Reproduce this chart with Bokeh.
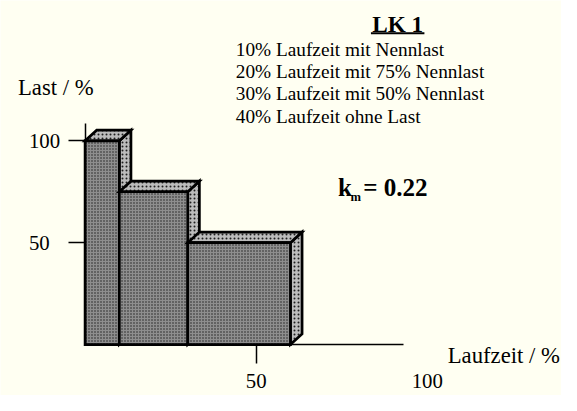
import numpy as np
from bokeh.plotting import figure
from bokeh.models import Range1d, FixedTicker, LinearAxis, Label, ColumnDataSource
from bokeh.embed import file_html
from bokeh.resources import INLINE

# ---- data ----
durations = [10, 20, 30, 40]          # Laufzeit / %
loads = [100, 75, 50, 0]              # Last / %
y_ticks = [50, 100]
x_ticks = [50, 100]
title_text = "LK 1"
legend_lines = [
    "10% Laufzeit mit Nennlast",
    "20% Laufzeit mit 75% Nennlast",
    "30% Laufzeit mit 50% Nennlast",
    "40% Laufzeit ohne Last",
]
km_value = "0.22"

# ---- layout / style ----
BG = "#fffff2"
FONT = "Liberation Serif"
REF_W, REF_H = 577, 411
W, H = 561, 395
SX, SY = W / REF_W, H / REF_H
FS = (SX + SY) / 2
# reference-pixel geometry of the data frame
RX0, RXS = 87, 3.52     # ref px of x=0, ref px per unit
RY0, RYS = 358, 2.12    # ref px of y=0, ref px per unit
DEPTH_X, DEPTH_Y = 3.4, 5.2


def dx(px):
    return (px - RX0) / RXS


def dy(py):
    return (RY0 - py) / RYS


def fpx(size):
    return "%.1fpx" % (size * FS)


p = figure(width=W, height=H,
           x_range=Range1d(dx(0), dx(REF_W)),
           y_range=Range1d(dy(REF_H), dy(0)),
           output_backend="svg", toolbar_location=None,
           min_border=0, x_axis_type=None, y_axis_type=None)
p.grid.visible = False
p.outline_line_color = None
p.background_fill_color = BG
p.border_fill_color = BG

# ---- 3D bars ----
starts = np.concatenate([[0], np.cumsum(durations)[:-1]])
xs, ys, fills, scales = [], [], [], []
for s, d, h in zip(starts, durations, loads):
    if h <= 0:
        continue
    e = s + d
    # right side face
    xs.append([e, e + DEPTH_X, e + DEPTH_X, e])
    ys.append([0, DEPTH_Y, h + DEPTH_Y, h])
    fills.append("#bcbcbc"); scales.append(4)
    # top face
    xs.append([s, s + DEPTH_X, e + DEPTH_X, e])
    ys.append([h, h + DEPTH_Y, h + DEPTH_Y, h])
    fills.append("#bcbcbc"); scales.append(4)
    # front face
    xs.append([s, e, e, s])
    ys.append([0, 0, h, h])
    fills.append("#8e8e8e"); scales.append(3)

src = ColumnDataSource(dict(xs=xs, ys=ys, fill=fills, scale=scales))
p.patches("xs", "ys", source=src, fill_color="fill", line_color="black",
          line_width=2.7, line_join="miter",
          hatch_pattern=".", hatch_color="#202020", hatch_scale="scale",
          hatch_weight=1)

# ---- axes ----
def style_axis(ax):
    ax.axis_line_width = 1.5
    ax.axis_line_color = "black"
    ax.major_tick_line_width = 1.5
    ax.major_tick_line_color = "black"
    ax.major_tick_in = 0
    ax.minor_tick_in = 0
    ax.minor_tick_out = 0
    ax.major_label_text_font = FONT
    ax.major_label_text_font_size = fpx(21.5)
    ax.major_label_text_color = "black"


yax = LinearAxis(fixed_location=0, bounds=(0, dy(128)),
                 ticker=FixedTicker(ticks=y_ticks))
style_axis(yax)
yax.major_tick_out = round(17 * SX)
yax.major_label_standoff = round(8 * SX)
yax.major_label_overrides = {50: "50\u00a0\u00a0"}
p.add_layout(yax, "left")

x_line_end = dx(415)
xax = LinearAxis(fixed_location=0, bounds=(0, x_line_end),
                 ticker=FixedTicker(ticks=[t for t in x_ticks if t <= x_line_end]))
style_axis(xax)
xax.major_tick_out = round(20 * SY)
xax.major_label_standoff = round(10 * SY)
p.add_layout(xax, "below")

xax2 = LinearAxis(fixed_location=0,
                  ticker=FixedTicker(ticks=[t for t in x_ticks if t > x_line_end]))
style_axis(xax2)
xax2.axis_line_color = None
xax2.major_tick_line_color = None
xax2.major_tick_out = round(20 * SY)
xax2.major_label_standoff = round(10 * SY)
p.add_layout(xax2, "below")

# ---- texts (positions in reference pixels, baseline) ----
def label(x, y, text, size, bold=False, align="left"):
    yb = y - 0.32 * size   # compensate Bokeh's alphabetic placement
    p.add_layout(Label(x=dx(x), y=dy(yb), text=text, text_font=FONT,
                       text_font_size=fpx(size), text_color="black",
                       text_font_style="bold" if bold else "normal",
                       text_align=align, text_baseline="alphabetic"))


label(18, 98, "Last / %", 23.5)
label(460, 377, "Laufzeit / %", 23.5)
label(408.5, 32, title_text, 24, bold=True, align="center")
p.segment(x0=[dx(381)], y0=[dy(34)], x1=[dx(436)], y1=[dy(34)],
          line_color="black", line_width=2)
for i, t in enumerate(legend_lines):
    label(242, 57 + 23.3 * i, t, 20)
label(347, 203, "k", 26, bold=True)
label(360, 209, "m", 13, bold=True)
label(373, 203, "= " + km_value, 26, bold=True)

open("out.html", "w").write(file_html(p, INLINE))
